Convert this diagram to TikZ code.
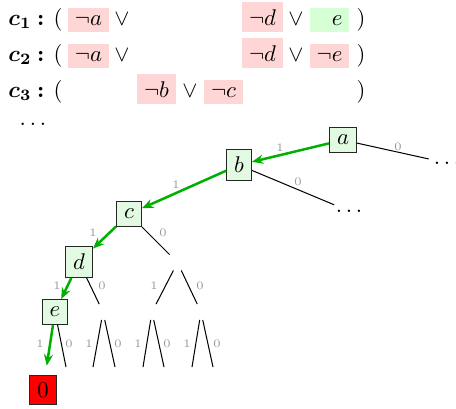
\documentclass[tikz,border=0pt]{standalone}
\usetikzlibrary{arrows.meta}
\definecolor{negred}{RGB}{255,214,214}
\definecolor{posgreen}{RGB}{214,255,214}
\definecolor{nodegreen}{RGB}{226,250,226}
\definecolor{actgreen}{RGB}{0,176,0}
\begin{document}
\begin{tikzpicture}[x=0.44pt,y=-0.44pt,
  litneg/.style={fill=negred, inner sep=3pt, anchor=base},
  litpos/.style={fill=posgreen, inner sep=3pt, anchor=base},
  plain/.style={inner sep=0pt, anchor=base},
  clabel/.style={inner sep=0pt, anchor=base west, font=\boldmath},
  var/.style={draw=black!85, fill=nodegreen, inner sep=3.33pt},
  ghost/.style={minimum size=6.6pt, inner sep=0pt},
  dotsn/.style={inner sep=2pt},
  branch/.style={draw=black, line width=0.45pt},
  act/.style={draw=actgreen, line width=1.1pt, -{Stealth[length=5pt,width=4pt]}},
  lbl/.style={font=\tiny, text=black!40, inner sep=0pt}]
\useasboundingbox (0,0) rectangle (456,408);

% clauses
\node[clabel] (c1) at (8,25) {$c_1$\kern2.5pt$:$};
\node[plain] (o1) at (58,25) {$($};
\node[litneg] (n1a) at (88.5,25) {$\neg a$};
\node[plain] (v1a) at (122,25) {$\vee$};
\node[litneg] (n1d) at (262.5,25) {$\neg d$};
\node[plain] (v1d) at (296,25) {$\vee$};
\node[litpos] (p1e) at (329.5,25) {$\phantom{\neg}e$};
\node[plain] (cl1) at (361,25) {$)$};

\node[clabel] (c2) at (8,61) {$c_2$\kern2.5pt$:$};
\node[plain] (o2) at (58,61) {$($};
\node[litneg] (n2a) at (88.5,61) {$\neg a$};
\node[plain] (v2a) at (122,61) {$\vee$};
\node[litneg] (n2d) at (262.5,61) {$\neg d$};
\node[plain] (v2d) at (296,61) {$\vee$};
\node[litneg] (n2e) at (329.5,61) {$\neg e$};
\node[plain] (cl2) at (361,61) {$)$};

\node[clabel] (c3) at (8,97) {$c_3$\kern2.5pt$:$};
\node[plain] (o3) at (58,97) {$($};
\node[litneg] (n3b) at (156.5,97) {$\neg b$};
\node[plain] (v3b) at (190,97) {$\vee$};
\node[litneg] (n3c) at (223.5,97) {$\neg c$};
\node[plain] (cl3) at (361,97) {$)$};

\node[plain] (more) at (33,125) {$\dots$};

% tree
\node[var] (a) at (343,140) {$a$};
\node[var] (b) at (239,165) {$b$};
\node[var] (c) at (129,214) {$c$};
\node[var] (d) at (79,262) {$d$};
\node[var] (e) at (55,312) {$e$};
\node[var, fill=red] (zero) at (43,390) {$0$};
\node[dotsn] (adots) at (447,163) {$\dots$};
\node[dotsn] (bdots) at (349,211) {$\dots$};

\node[ghost] (c0) at (177.5,262.5) {};
\node[ghost] (d0) at (103,312) {};
\node[ghost] (c01) at (152,312) {};
\node[ghost] (c00) at (201,312) {};

\coordinate (e0) at (66,367);
\coordinate (d01) at (93,367);
\coordinate (d00) at (115,367);
\coordinate (c011) at (143,367);
\coordinate (c010) at (164,367);
\coordinate (c001) at (192,367);
\coordinate (c000) at (213,367);

\draw[branch] (a) -- (adots);
\draw[branch] (b) -- (bdots);
\draw[branch] (c) -- (c0);
\draw[branch] (d) -- (d0);
\draw[branch] (e) -- (e0);
\draw[branch] (c0) -- (c01);
\draw[branch] (c0) -- (c00);
\draw[branch] (d0) -- (d01);
\draw[branch] (d0) -- (d00);
\draw[branch] (c01) -- (c011);
\draw[branch] (c01) -- (c010);
\draw[branch] (c00) -- (c001);
\draw[branch] (c00) -- (c000);

\draw[act] (a) -- (b);
\draw[act] (b) -- (c);
\draw[act] (c) -- (d);
\draw[act] (d) -- (e);
\draw[act, shorten >=4pt] (e) -- (zero);

% branch labels
\node[lbl] (la1) at (280,148) {1};
\node[lbl] (la0) at (398,147) {0};
\node[lbl] (lb1) at (176,185) {1};
\node[lbl] (lb0) at (298,182) {0};
\node[lbl] (lc1) at (93,233) {1};
\node[lbl] (lc0) at (163,233) {0};
\node[lbl] (ld1) at (57,286) {1};
\node[lbl] (ld0) at (102,286) {0};
\node[lbl] (lc01) at (154,286) {1};
\node[lbl] (lc00) at (200,286) {0};
\node[lbl] (le1) at (40,344) {1};
\node[lbl] (le0) at (69,344) {0};
\node[lbl] (ld01) at (89,344) {1};
\node[lbl] (ld00) at (118,344) {0};
\node[lbl] (lc011) at (138,344) {1};
\node[lbl] (lc010) at (167,344) {0};
\node[lbl] (lc001) at (187,344) {1};
\node[lbl] (lc000) at (217,344) {0};
\end{tikzpicture}
\end{document}
